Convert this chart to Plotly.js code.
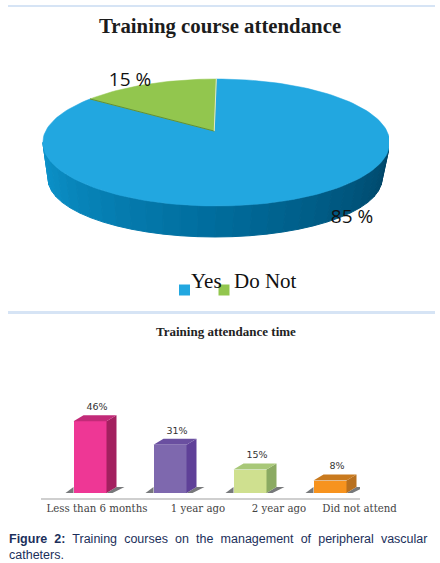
<!DOCTYPE html>
<html>
<head>
<meta charset="utf-8">
<script src="https://cdn.plot.ly/plotly-3.0.1.min.js"></script>
<style>
html,body{margin:0;padding:0;background:#fff}
#chart{width:440px;height:563px}
.annotation[data-index="0"] text{word-spacing:3.65px}
</style>
</head>
<body>
<div id="chart"></div>
<script>
// ---- data ----
var pieTitle = "Training course attendance";
var pieLabels = ["Yes", "Do Not"];
var pieValues = [85, 15];
var pieColors = ["#22A7E0", "#92C64E"];

var barTitle = "Training attendance time";
var barCategories = ["Less than 6 months", "1 year ago", "2 year ago", "Did not attend"];
var barValues = [46, 31, 15, 8];
var barFront = ["#EE3795", "#7E68AE", "#CFE08F", "#F7931E"];
var barSide = ["#A3205F", "#5F4098", "#8BAA62", "#B8701F"];
var barTop = ["#C22A78", "#6A4FA0", "#A8C878", "#C97A1E"];

var captionBold = "Figure 2:";
var captionLine1 = "Training courses on the management of peripheral vascular";
var captionLine2 = "catheters.";

// ---- page geometry (pixels) ----
var W = 440, H = 563;
var pie = {cx: 216.3, cy: 142.5, rx: 173.5, ry: 63.5, clipX: 389, bottom: 302};
var bars = {x0: 90, step: 80, axisLeft: 41, axisRight: 360, axisY: 498, baseY: 493, pxPerPct: 1.56, top: 400, dx: 10, dy: 6};

// Pie is drawn on axes whose unit is the rim radius, so ellipse = unit circle squashed by the scales.
var pieX = [-pie.cx / pie.rx, (pie.clipX - pie.cx) / pie.rx];
var pieY = [(pie.cy - pie.bottom) / pie.ry, pie.cy / pie.ry];
var apex = {x: -0.012, y: 0.18};
var foreshorten = 0.865;   // perspective narrowing of the far sector
var lower = {x: -0.0075, y: -0.575, rx: 0.9625, ry: 0.913};

var D2R = Math.PI / 180;
function rim(t) { return [Math.sin(t * D2R), Math.cos(t * D2R)]; }

var greenSweep = pieValues[1] / 100 * 360 * foreshorten;

function sector(fromT, toT) {
  var xs = [apex.x], ys = [apex.y], n = Math.ceil(Math.abs(toT - fromT) / 2);
  for (var i = 0; i <= n; i++) {
    var p = rim(fromT + (toT - fromT) * i / n);
    xs.push(p[0]); ys.push(p[1]);
  }
  xs.push(apex.x); ys.push(apex.y);
  return {x: xs, y: ys};
}

function mix(a, b, f) {
  return "rgb(" + a.map(function (v, i) { return Math.round(v + (b[i] - v) * f); }).join(",") + ")";
}

var traces = [];

// side wall of the pie: strips around the front half of the rim
var wallLeft = [12, 148, 204], wallMid = [0, 108, 156], wallRight = [0, 70, 104];
var wallSteps = 30;
for (var s = 0; s < wallSteps; s++) {
  var t0 = 270 - s * 180 / wallSteps, t1 = 270 - (s + 1) * 180 / wallSteps;
  var a = rim(t0), b = rim(t1);
  var f = s / (wallSteps - 1);
  var col = f < 0.5 ? mix(wallLeft, wallMid, f * 2) : mix(wallMid, wallRight, (f - 0.5) * 2);
  traces.push({
    type: "scatter", mode: "lines", xaxis: "x", yaxis: "y", hoverinfo: "skip",
    x: [a[0], b[0], lower.x + b[0] * lower.rx, lower.x + a[0] * lower.rx, a[0]],
    y: [a[1], b[1], lower.y + b[1] * lower.ry, lower.y + a[1] * lower.ry, a[1]],
    fill: "toself", fillcolor: col, line: {color: col, width: 1}
  });
}

// top faces, sized from the two values
var blueFace = sector(0, 360 - greenSweep);
traces.push({type: "scatter", mode: "lines", xaxis: "x", yaxis: "y", hoverinfo: "skip",
  x: blueFace.x, y: blueFace.y, fill: "toself", fillcolor: pieColors[0], line: {color: pieColors[0], width: 0.5}});
var greenFace = sector(360 - greenSweep, 360);
traces.push({type: "scatter", mode: "lines", xaxis: "x", yaxis: "y", hoverinfo: "skip",
  x: greenFace.x, y: greenFace.y, fill: "toself", fillcolor: pieColors[1], line: {color: pieColors[1], width: 0.5}});
// sector edges
var edgeL = rim(360 - greenSweep);
traces.push({type: "scatter", mode: "lines", xaxis: "x", yaxis: "y", hoverinfo: "skip",
  x: [edgeL[0], apex.x], y: [edgeL[1], apex.y], line: {color: "#5F8F38", width: 1}});
traces.push({type: "scatter", mode: "lines", xaxis: "x", yaxis: "y", hoverinfo: "skip",
  x: [apex.x, 0], y: [apex.y, 1], line: {color: "#DDE8CC", width: 1}});

// pie value labels
traces.push({type: "scatter", mode: "text", xaxis: "x", yaxis: "y", hoverinfo: "skip",
  x: [(130 - pie.cx) / pie.rx, (352 - pie.cx) / pie.rx],
  y: [(pie.cy - 81) / pie.ry, (pie.cy - 218) / pie.ry],
  text: [pieValues[1] + " %", pieValues[0] + " %"],
  textposition: "middle center", cliponaxis: false,
  textfont: {family: "Open Sans, sans-serif", size: 19, color: "#111"}});

// legend swatches
traces.push({type: "scatter", mode: "markers", xaxis: "x", yaxis: "y", hoverinfo: "skip",
  x: [(184.5 - pie.cx) / pie.rx, (224 - pie.cx) / pie.rx],
  y: [(pie.cy - 290) / pie.ry, (pie.cy - 290) / pie.ry],
  marker: {symbol: "square", size: 11, color: pieColors}});

// ---- bars ----
var barX = barValues.map(function (_, i) { return i; });
var halfW = 16.5 / bars.step;
var ux = 1 / bars.step, uy = 1 / bars.pxPerPct;
var shadowColor = "#77797B";

barValues.forEach(function (v, i) {
  // ground shadows
  traces.push({type: "scatter", mode: "lines", xaxis: "x2", yaxis: "y2", hoverinfo: "skip",
    x: [i - halfW, i - halfW - 8 * ux, i - halfW, i - halfW],
    y: [0, 0, 6 * uy, 0],
    fill: "toself", fillcolor: shadowColor, line: {width: 0}});
  traces.push({type: "scatter", mode: "lines", xaxis: "x2", yaxis: "y2", hoverinfo: "skip",
    x: [i + halfW, i + halfW + bars.dx * ux, i + halfW + 18 * ux, i + halfW + 6 * ux, i + halfW],
    y: [0, bars.dy * uy, bars.dy * uy, 0, 0],
    fill: "toself", fillcolor: shadowColor, line: {width: 0}});
  // right side face
  traces.push({type: "scatter", mode: "lines", xaxis: "x2", yaxis: "y2", hoverinfo: "skip",
    x: [i + halfW, i + halfW + bars.dx * ux, i + halfW + bars.dx * ux, i + halfW, i + halfW],
    y: [0, bars.dy * uy, v + bars.dy * uy, v, 0],
    fill: "toself", fillcolor: barSide[i], line: {width: 0}});
  // top face
  traces.push({type: "scatter", mode: "lines", xaxis: "x2", yaxis: "y2", hoverinfo: "skip",
    x: [i - halfW, i + halfW, i + halfW + bars.dx * ux, i - halfW + bars.dx * ux, i - halfW],
    y: [v, v, v + bars.dy * uy, v + bars.dy * uy, v],
    fill: "toself", fillcolor: barTop[i], line: {width: 0}});
});

// front faces
traces.push({type: "bar", xaxis: "x2", yaxis: "y2", hoverinfo: "skip",
  x: barX, y: barValues, width: 2 * halfW, marker: {color: barFront, line: {width: 0}}});

// bar value labels
traces.push({type: "scatter", mode: "text", xaxis: "x2", yaxis: "y2", hoverinfo: "skip", cliponaxis: false,
  x: barX.map(function (i) { return i + 7 * ux; }),
  y: barValues.map(function (v) { return v + 13.5 * uy; }),
  text: barValues.map(function (v) { return v + "%"; }),
  textposition: "middle center",
  textfont: {family: "DejaVu Sans, sans-serif", size: 9.5, color: "#333"}});

var layout = {
  width: W, height: H, autosize: false, showlegend: false,
  margin: {l: 0, r: 0, t: 0, b: 0, pad: 0},
  paper_bgcolor: "#fff", plot_bgcolor: "rgba(0,0,0,0)",
  bargap: 0,
  title: {
    text: "<b>" + pieTitle + "</b>", x: 220 / W, xanchor: "center", xref: "paper",
    y: 1 - 26 / H, yanchor: "middle", yref: "container", automargin: false,
    font: {family: "Liberation Serif, serif", size: 20.8, color: "#1c1c1c"}
  },
  xaxis: {domain: [0, pie.clipX / W], range: pieX, visible: false, fixedrange: true},
  yaxis: {domain: [1 - pie.bottom / H, 1], range: pieY, visible: false, fixedrange: true},
  xaxis2: {
    domain: [bars.axisLeft / W, bars.axisRight / W], anchor: "y2", fixedrange: true,
    range: [(bars.axisLeft - bars.x0) / bars.step, (bars.axisRight - bars.x0) / bars.step],
    showgrid: false, zeroline: false, showline: true, linecolor: "#CFCFCF", linewidth: 1.5,
    ticks: "", tickmode: "array",
    tickvals: [0.0875, 1.35, 2.3625, 3.37], ticktext: barCategories, tickangle: 0,
    tickfont: {family: "DejaVu Serif, serif", size: 10.2, color: "#444"}
  },
  yaxis2: {
    domain: [1 - bars.axisY / H, 1 - bars.top / H], anchor: "x2", visible: false, fixedrange: true,
    range: [-(bars.axisY - bars.baseY) / bars.pxPerPct, (bars.baseY - bars.top) / bars.pxPerPct]
  },
  shapes: [
    {type: "rect", xref: "paper", yref: "paper", x0: 8 / W, x1: 435 / W, y0: 1 - 7 / H, y1: 1 - 5 / H,
      fillcolor: "#D6E4F5", line: {width: 0}},
    {type: "rect", xref: "paper", yref: "paper", x0: 8 / W, x1: 435 / W, y0: 1 - 314 / H, y1: 1 - 311 / H,
      fillcolor: "#D6E4F5", line: {width: 0}}
  ],
  annotations: [
    {xref: "paper", yref: "paper", x: 7 / W, y: 1 - 539 / H, xanchor: "left", yanchor: "middle", showarrow: false, align: "left",
      text: "<b style='color:#1B2F5B'>" + captionBold + "</b> " + captionLine1,
      font: {family: "Liberation Sans, Arial, sans-serif", size: 12.5, color: "#1B2F5B"}},
    {xref: "paper", yref: "paper", x: 7 / W, y: 1 - 555 / H, xanchor: "left", yanchor: "middle", showarrow: false, align: "left",
      text: captionLine2,
      font: {family: "Liberation Sans, Arial, sans-serif", size: 12.5, color: "#1B2F5B"}},
    {xref: "paper", yref: "paper", x: 226 / W, y: 1 - 331 / H, xanchor: "center", yanchor: "middle", showarrow: false,
      text: "<b>" + barTitle + "</b>",
      font: {family: "Liberation Serif, serif", size: 13, color: "#222"}},
    {xref: "paper", yref: "paper", x: 206 / W, y: 1 - 281 / H, xanchor: "center", yanchor: "middle", showarrow: false,
      text: pieLabels[0], font: {family: "Liberation Serif, serif", size: 21, color: "#111"}},
    {xref: "paper", yref: "paper", x: 265 / W, y: 1 - 281 / H, xanchor: "center", yanchor: "middle", showarrow: false,
      text: pieLabels[1], font: {family: "Liberation Serif, serif", size: 21, color: "#111"}}
  ]
};

Plotly.newPlot("chart", traces, layout, {displayModeBar: false, staticPlot: true});
</script>
</body>
</html>
